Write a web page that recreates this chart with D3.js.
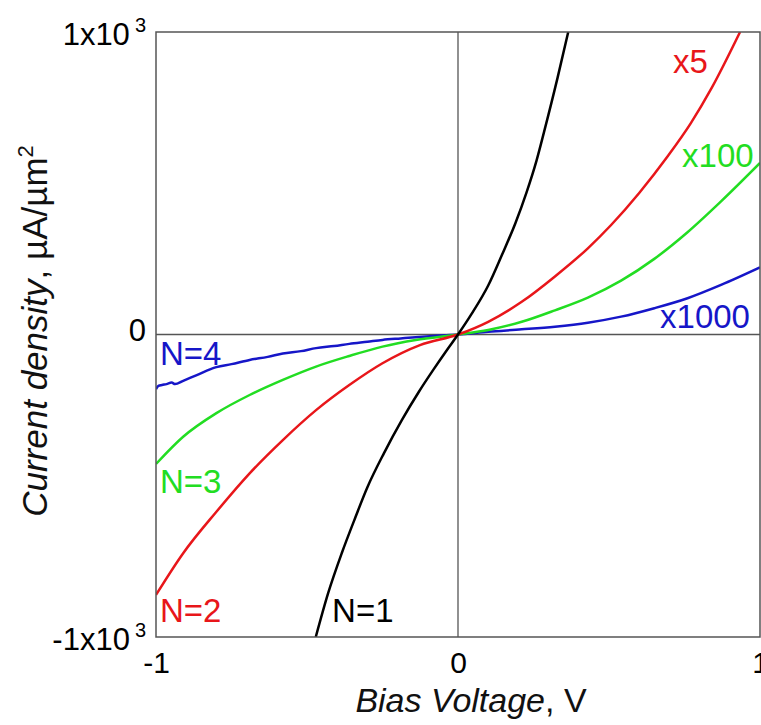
<!DOCTYPE html>
<html>
<head>
<meta charset="utf-8">
<script src="https://cdn.jsdelivr.net/npm/d3@7"></script>
<style>
  html, body { margin: 0; padding: 0; background: #fff; }
  svg { display: block; font-family: Arial, "Liberation Sans", sans-serif; }
</style>
</head>
<body>
<div id="chart"></div>
<script>
// I-V curves, [bias voltage (V), current density (uA/um^2)] as plotted
const seriesN1 = [
  [-0.471, -1000], [-0.43, -855], [-0.385, -723], [-0.34, -605], [-0.30, -505],
  [-0.245, -392], [-0.186, -283], [-0.13, -190], [-0.082, -117], [-0.04, -56],
  [0, 0], [0.045, 68], [0.10, 162], [0.145, 262], [0.19, 368], [0.227, 470],
  [0.26, 575], [0.285, 670], [0.33, 850], [0.365, 1000]
];
const seriesN2 = [
  [-1, -861], [-0.91, -723], [-0.80, -586], [-0.69, -459], [-0.58, -349],
  [-0.47, -250], [-0.36, -167], [-0.25, -95], [-0.126, -35], [0, 0],
  [0.10, 42], [0.211, 108], [0.321, 192], [0.43, 285], [0.507, 362],
  [0.60, 468], [0.695, 590], [0.77, 697], [0.84, 815], [0.934, 1000]
];
const seriesN3 = [
  [-1, -428], [-0.91, -338], [-0.80, -260], [-0.69, -200], [-0.58, -150],
  [-0.47, -106], [-0.36, -71], [-0.25, -40], [-0.14, -18], [0, 0],
  [0.10, 15], [0.211, 42], [0.321, 80], [0.43, 122], [0.54, 178],
  [0.65, 250], [0.76, 338], [0.871, 440], [1, 567]
];
const seriesN4 = [
  [-1, -181], [-0.992, -170], [-0.98, -167], [-0.965, -164], [-0.948, -159],
  [-0.937, -164], [-0.91, -153], [-0.865, -134], [-0.80, -108], [-0.75, -98],
  [-0.69, -84], [-0.63, -74], [-0.58, -63], [-0.52, -55], [-0.47, -45],
  [-0.41, -38], [-0.36, -31], [-0.30, -24], [-0.25, -18], [-0.19, -13],
  [-0.14, -9], [-0.07, -4], [0, 0], [0.10, 9], [0.211, 17], [0.321, 26],
  [0.43, 39], [0.54, 59], [0.65, 87], [0.76, 120], [0.871, 164], [1, 222]
];

const xTicks = [-1, 0, 1];
const xTickLabels = ['-1', '0', '1'];
const yTicks = [-1000, 0, 1000];
const yTickLabels = ['-1x10', '0', '1x10'];
const yTickExponents = ['3', '', '3'];

const colors = {
  n1: '#000000',
  n2: '#e8161a',
  n3: '#22dd22',
  n4: '#1616c8',
  frame: '#555555'
};

const width = 761;
const height = 725;
const margin = { top: 32, right: 1, bottom: 88, left: 156 };
const innerW = width - margin.left - margin.right;
const innerH = height - margin.top - margin.bottom;

const svg = d3.select('#chart').append('svg')
  .attr('width', width)
  .attr('height', height);

const g = svg.append('g')
  .attr('transform', `translate(${margin.left},${margin.top})`);

const x = d3.scaleLinear().domain([-1, 1]).range([0, innerW]);
const y = d3.scaleLinear().domain([-1000, 1000]).range([innerH, 0]);

g.append('clipPath').attr('id', 'plot-clip')
  .append('rect').attr('width', innerW).attr('height', innerH);

// zero lines
g.append('line')
  .attr('x1', x(0)).attr('x2', x(0)).attr('y1', 0).attr('y2', innerH)
  .attr('stroke', colors.frame).attr('stroke-width', 1.3);
g.append('line')
  .attr('x1', 0).attr('x2', innerW).attr('y1', y(0)).attr('y2', y(0))
  .attr('stroke', colors.frame).attr('stroke-width', 1.3);

const line = d3.line()
  .x(d => x(d[0]))
  .y(d => y(d[1]))
  .curve(d3.curveMonotoneX);

const curves = [
  { data: seriesN4, color: colors.n4 },
  { data: seriesN3, color: colors.n3 },
  { data: seriesN2, color: colors.n2 },
  { data: seriesN1, color: colors.n1 }
];

g.append('g').attr('clip-path', 'url(#plot-clip)')
  .selectAll('path')
  .data(curves)
  .enter()
  .append('path')
  .attr('d', d => line(d.data))
  .attr('fill', 'none')
  .attr('stroke', d => d.color)
  .attr('stroke-width', 2.5)
  .attr('stroke-linejoin', 'round');

// frame
g.append('rect')
  .attr('width', innerW).attr('height', innerH)
  .attr('fill', 'none')
  .attr('stroke', colors.frame)
  .attr('stroke-width', 1.5);

// axes
const xAxis = d3.axisBottom(x)
  .tickValues(xTicks)
  .tickSize(0)
  .tickPadding(15)
  .tickFormat((d, i) => xTickLabels[i]);

const gx = g.append('g')
  .attr('transform', `translate(0,${innerH})`)
  .call(xAxis);
gx.select('.domain').remove();
gx.selectAll('text')
  .attr('fill', '#000')
  .style('font-size', '30px')
  .style('font-family', 'Arial, "Liberation Sans", sans-serif');

const yAxis = d3.axisLeft(y)
  .tickValues(yTicks)
  .tickSize(0)
  .tickPadding(10)
  .tickFormat(() => '');

const gy = g.append('g').call(yAxis);
gy.select('.domain').remove();
gy.selectAll('text')
  .attr('fill', '#000')
  .attr('dy', (d, i) => (d === 0 ? 6 : 12))
  .style('font-size', '31px')
  .style('font-family', 'Arial, "Liberation Sans", sans-serif')
  .each(function (d, i) {
    const t = d3.select(this);
    t.append('tspan').text(yTickLabels[i]);
    if (yTickExponents[i]) {
      t.append('tspan')
        .attr('dy', -13)
        .attr('dx', 5)
        .style('font-size', '20px')
        .text(yTickExponents[i]);
    }
  });

// curve labels (anchored in data units)
const curveLabels = [
  { text: 'N=4', v: -0.987, j: -101, color: colors.n4 },
  { text: 'N=3', v: -0.987, j: -524, color: colors.n3 },
  { text: 'N=2', v: -0.987, j: -950, color: colors.n2 },
  { text: 'N=1', v: -0.417, j: -950, color: colors.n1 },
  { text: 'x5', v: 0.712, j: 864, color: colors.n2 },
  { text: 'x100', v: 0.742, j: 554, color: colors.n3 },
  { text: 'x1000', v: 0.669, j: 21, color: colors.n4 }
];

g.selectAll('.curve-label')
  .data(curveLabels)
  .enter()
  .append('text')
  .attr('class', 'curve-label')
  .attr('x', d => x(d.v))
  .attr('y', d => y(d.j))
  .attr('fill', d => d.color)
  .style('font-size', '33px')
  .text(d => d.text);

// axis titles
const xTitle = svg.append('text')
  .attr('x', 471)
  .attr('y', 712)
  .attr('text-anchor', 'middle')
  .style('font-size', '34px')
  .attr('fill', '#111');
xTitle.append('tspan').style('font-style', 'italic').text('Bias Voltage');
xTitle.append('tspan').text(', V');

const yTitle = svg.append('text')
  .attr('transform', 'translate(47,331) rotate(-90)')
  .attr('text-anchor', 'middle')
  .style('font-size', '35px')
  .attr('fill', '#111');
yTitle.append('tspan').style('font-style', 'italic').text('Current density');
yTitle.append('tspan').text(', \u00b5A/\u00b5m');
yTitle.append('tspan').attr('dy', -14).style('font-size', '22px').text('2');
</script>
</body>
</html>
